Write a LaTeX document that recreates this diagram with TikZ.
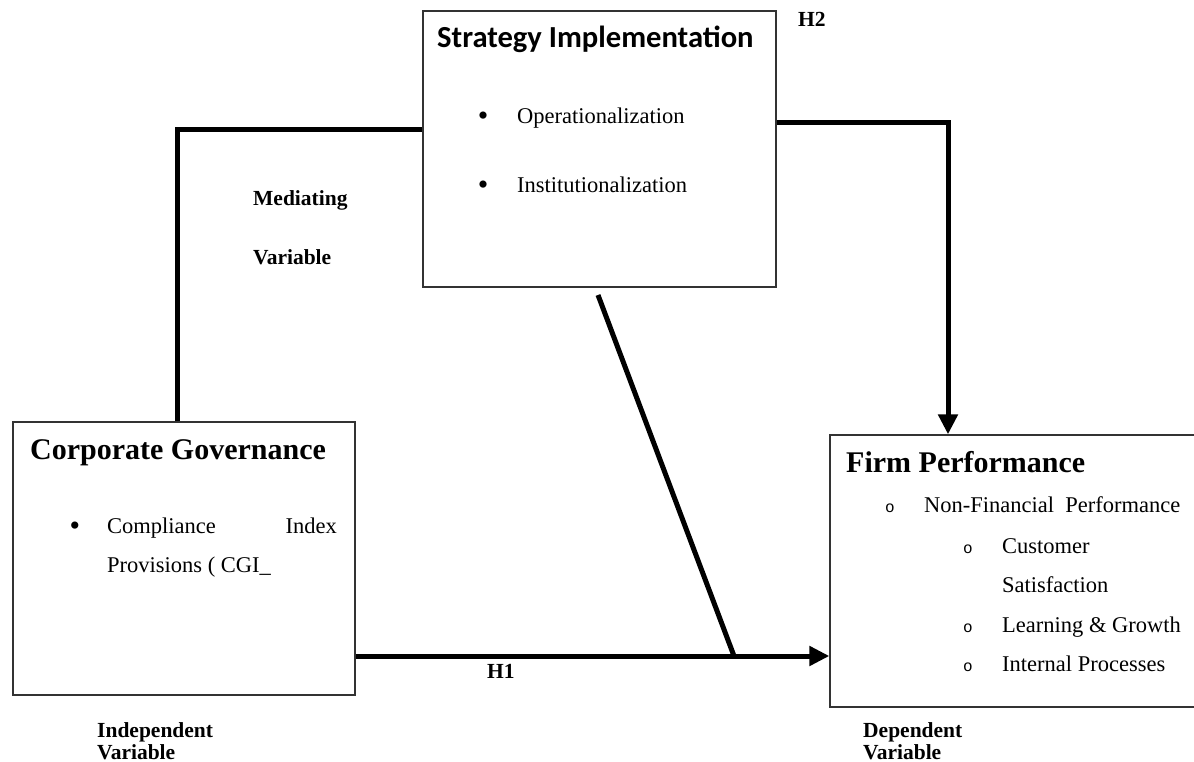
\documentclass[tikz,border=0pt]{standalone}
\usepackage{fontspec}
\setmainfont{Liberation Serif}
\newfontfamily\calibrifont{Carlito}
\newfontfamily\courfont{Liberation Mono}
\usetikzlibrary{arrows.meta}
\begin{document}
\begin{tikzpicture}[x=1pt,y=-1pt,
  box/.style={draw=black!80, line width=1.3pt, rectangle, inner sep=0pt},
  conn/.style={line width=5pt, black},
  tip/.style={-{Triangle[length=20pt,width=19pt]}},
  ttl/.style={anchor=base west, inner sep=0pt, font=\fontsize{30}{36}\selectfont\bfseries},
  sittl/.style={anchor=base west, inner sep=0pt, font=\fontsize{30.6}{36}\selectfont\calibrifont\bfseries},
  body/.style={anchor=base west, inner sep=0pt, font=\fontsize{22.5}{27}\selectfont},
  dot/.style={anchor=base, inner sep=0pt, font=\fontsize{30}{36}\selectfont},
  odot/.style={anchor=base, inner sep=0pt, font=\fontsize{16}{20}\selectfont\courfont},
  lbl/.style={anchor=base west, inner sep=0pt, font=\fontsize{21.5}{25}\selectfont\bfseries}
]
\useasboundingbox (0,0) rectangle (1194,762);

% boxes
\node[box, minimum width=353pt, minimum height=276pt] (si) at (599.5,149) {};
\node[box, minimum width=342pt, minimum height=273pt] (cg) at (184,558.5) {};
\node[box, minimum width=368pt, minimum height=272pt] (fp) at (1014,571) {};

% Strategy Implementation text
\node[sittl] (siT) at (437,48) {Strategy Implementation};
\node[dot] (siB1) at (483,126) {•};
\node[body] (siL1) at (517,124) {Operationalization};
\node[dot] (siB2) at (483,195) {•};
\node[body] (siL2) at (517,193) {Institutionalization};

% Corporate Governance text
\node[ttl] (cgT) at (30,459) {Corporate Governance};
\node[dot] (cgB1) at (75,535) {•};
\node[body] (cgL1) at (107,533) {Compliance};
\node[body, anchor=base east] (cgL1b) at (337,533) {Index};
\node[body] (cgL2) at (107,572) {Provisions ( CGI\_};

% Firm Performance text
\node[ttl] (fpT) at (846,472) {Firm Performance};
\node[odot] (fpB1) at (890,512) {o};
\node[body] (fpL1) at (924,512) {Non-Financial\ \ Performance};
\node[odot] (fpB2) at (968,553) {o};
\node[body] (fpL2) at (1002,553) {Customer};
\node[body] (fpL3) at (1002,592) {Satisfaction};
\node[odot] (fpB4) at (968,632) {o};
\node[body] (fpL4) at (1002,632) {Learning \& Growth};
\node[odot] (fpB5) at (968,671) {o};
\node[body] (fpL5) at (1002,671) {Internal Processes};

% labels
\node[lbl] (h2) at (798,27) {H2};
\node[lbl] (h1) at (487,678) {H1};
\node[lbl] (med1) at (253,206) {Mediating};
\node[lbl] (med2) at (253,264) {Variable};
\node[lbl] (ind1) at (97,737) {Independent};
\node[lbl] (ind2) at (97,759) {Variable};
\node[lbl] (dep1) at (863,737) {Dependent};
\node[lbl] (dep2) at (863,759) {Variable};

% connectors
\coordinate (dtop) at (598,295);
\coordinate (dbot) at (734,656);
\draw[conn] ([xshift=-7pt]cg.north) |- (si.west |- 0,130);
\draw[conn, tip] (si.east |- 0,123) -| (fp.north -| 948,0);
\draw[conn, tip] (cg.east |- 0,656) -- (fp.west |- 0,656);
\draw[conn] (dtop) -- (dbot);
\end{tikzpicture}
\end{document}
